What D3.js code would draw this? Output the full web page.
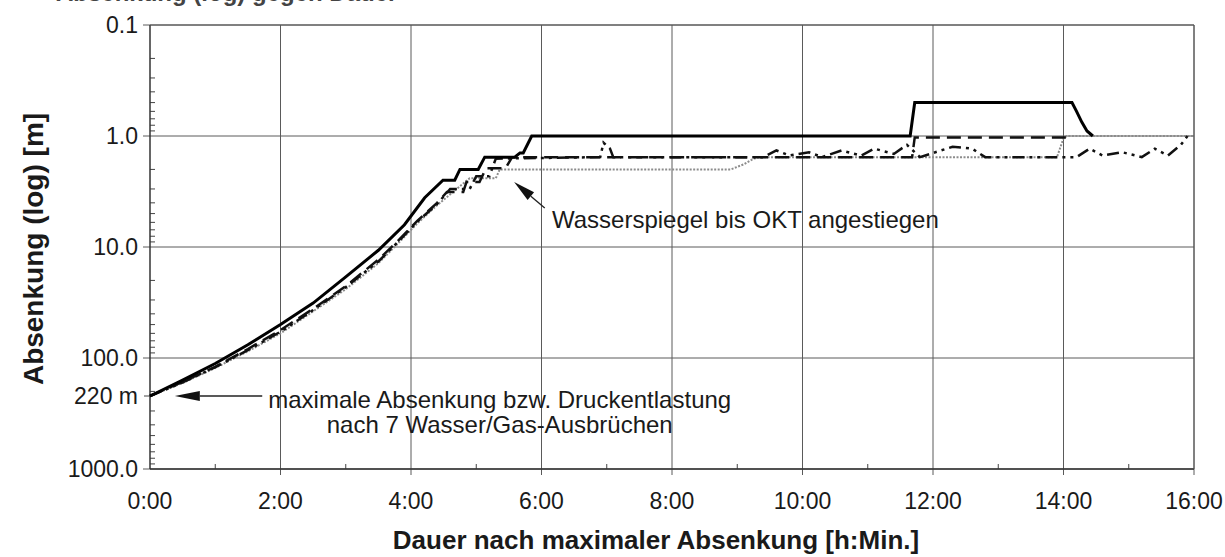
<!DOCTYPE html>
<html>
<head>
<meta charset="utf-8">
<script src="https://cdn.jsdelivr.net/npm/d3@7"></script>
<style>
  body { margin: 0; background: #fff; }
  text { font-family: "Liberation Sans", Arial, sans-serif; fill: #1a1a1a; }
</style>
</head>
<body>
<script>
// tick values
var xTicks = [0, 2, 4, 6, 8, 10, 12, 14, 16];
var yTicks = [0.1, 1, 10, 100, 1000];
var yTickLabels = ["0.1", "1.0", "10.0", "100.0", "1000.0"];
var startValue = 220;
var startLabel = "220 m";

// series: [Stunden, Absenkung m]
var solidLine = [[0,220],[0.5,158],[1,112],[1.5,76],[2,50],[2.5,32],[3,18.6],[3.5,10.7],[3.9,6.3],[4.21,3.6],
  [4.49,2.5],[4.67,2.5],[4.75,2.0],[5.03,2.0],[5.13,1.55],[5.59,1.55],[5.67,1.42],[5.72,1.42],[5.85,1.0],
  [11.65,1.0],[11.72,0.5],[14.13,0.5],[14.2,0.6],[14.28,0.75],[14.36,0.9],[14.45,1.0]];

var dashLine = [[0,220],[0.5,164],[1,120],[1.5,83],[2,56],[2.5,36],[3,22.5],[3.5,13],[3.8,8.8],[4.1,5.8],[4.4,4.0],
  [4.55,3.2],[4.8,3.2],[4.85,2.6],[5.05,2.6],[5.15,1.95],[5.45,1.95],[5.55,1.55],[11.68,1.55],[11.72,1.03],
  [14.05,1.03],[14.1,1.0]];

var dashDotLine = [[0,220],[0.5,166],[1,121],[1.5,85],[2,58],[2.5,37],[3,23],[3.5,13.5],[3.8,9.0],[4.1,5.9],[4.4,4.1],
  [4.6,3.0],[4.9,3.0],[5.0,2.3],[5.2,2.3],[5.3,1.6],[6.9,1.55],[6.95,1.15],[7.05,1.3],[7.1,1.55],
  [9.4,1.55],[9.6,1.35],[9.8,1.5],[10.1,1.4],[10.3,1.55],[10.6,1.35],[10.9,1.5],[11.1,1.3],[11.4,1.45],
  [11.6,1.2],[11.8,1.55],[12.3,1.25],[12.6,1.3],[12.8,1.55],[14.2,1.55],[14.4,1.3],[14.6,1.5],[14.9,1.4],
  [15.2,1.55],[15.4,1.3],[15.6,1.5],[15.8,1.2],[15.9,1.0]];

var dottedLine = [[0,220],[0.5,168],[1,123],[1.5,87],[2,60],[2.5,38],[3,24],[3.5,14],[3.8,9.3],[4.1,6.1],[4.4,4.2],
  [4.7,3.0],[4.9,2.4],[5.3,2.4],[5.36,2.0],[8.9,2.0],[9.1,1.8],[9.25,1.6],[9.35,1.55],[13.9,1.55],
  [14.0,1.05],[14.05,1.0],[16.0,1.0]];

// annotations in data units
var noteTop = { text: "Wasserspiegel bis OKT angestiegen", at: [6.16, 6.7], tail: [6.05, 4.45], tip: [5.58, 2.59] };
var noteBottom = { lines: ["maximale Absenkung bzw. Druckentlastung", "nach 7 Wasser/Gas-Ausbrüchen"],
  at: [5.36, 282], at2: [5.36, 470], tail: [1.72, 220], tip: [0.38, 220] };

var W = 1225, H = 557;
var margin = { top: 25, left: 150, right: 31, bottom: 88 };
var x0 = margin.left, x1 = W - margin.right, y0 = margin.top, y1 = H - margin.bottom;

var svg = d3.select("body").append("svg").attr("width", W).attr("height", H);

var xScale = d3.scaleLinear().domain([0, 16]).range([x0, x1]);
var yScale = d3.scaleLog().domain([0.1, 1000]).range([y0, y1]);

// cut-off heading at the very top
svg.append("text").attr("x", 56).attr("y", 1).style("font-size", "24px").style("font-weight", "bold")
  .style("fill", "#444").text("Absenkung (log) gegen Dauer");

// grid
var grid = svg.append("g").attr("stroke", "#5a5a5a").attr("stroke-width", 1);
grid.selectAll(".gx").data(xTicks.slice(1)).enter().append("line")
  .attr("x1", d => xScale(d)).attr("x2", d => xScale(d)).attr("y1", y0).attr("y2", y1 + 6);
grid.selectAll(".gy").data(yTicks).enter().append("line")
  .attr("y1", d => yScale(d)).attr("y2", d => yScale(d)).attr("x1", x0 - 7).attr("x2", x1);

// minor ticks
var minorY = [];
yTicks.slice(0, 4).forEach(function (d) { for (var k = 2; k < 10; k++) minorY.push(d * k); });
svg.append("g").attr("stroke", "#444").selectAll("line").data(minorY).enter().append("line")
  .attr("x1", x0).attr("x2", x0 + 5).attr("y1", d => yScale(d)).attr("y2", d => yScale(d));
svg.append("g").attr("stroke", "#444").selectAll("line").data(d3.range(1, 16, 2)).enter().append("line")
  .attr("x1", d => xScale(d)).attr("x2", d => xScale(d)).attr("y1", y1).attr("y2", y1 - 5);
svg.append("line").attr("stroke", "#444").attr("x1", x0 - 6).attr("x2", x0)
  .attr("y1", yScale(startValue)).attr("y2", yScale(startValue));

// axes lines
svg.append("line").attr("x1", x0).attr("x2", x0).attr("y1", y0).attr("y2", y1).attr("stroke", "#333").attr("stroke-width", 1.5);
svg.append("line").attr("x1", x0).attr("x2", x1).attr("y1", y1).attr("y2", y1).attr("stroke", "#333").attr("stroke-width", 1.5);

// tick labels
svg.append("g").selectAll("text").data(yTicks).enter().append("text")
  .attr("x", x0 - 12).attr("y", d => yScale(d) + 8).attr("text-anchor", "end")
  .style("font-size", "23px").text((d, i) => yTickLabels[i]);
svg.append("text").attr("x", x0 - 12).attr("y", yScale(startValue) + 8).attr("text-anchor", "end")
  .style("font-size", "23px").text(startLabel);
svg.append("g").selectAll("text").data(xTicks).enter().append("text")
  .attr("x", d => xScale(d)).attr("y", y1 + 40).attr("text-anchor", "middle")
  .style("font-size", "23px").text(d => d + ":00");

// axis titles
svg.append("text").attr("transform", "translate(43," + ((y0 + y1) / 2 + 2) + ") rotate(-90)")
  .attr("text-anchor", "middle").style("font-size", "28px").style("font-weight", "bold")
  .text("Absenkung (log)  [m]");
svg.append("text").attr("x", (x0 + x1) / 2 - 16).attr("y", H - 8).attr("text-anchor", "middle")
  .style("font-size", "26px").style("font-weight", "bold")
  .text("Dauer nach maximaler Absenkung  [h:Min.]");

// series
var line = d3.line().x(d => xScale(d[0])).y(d => yScale(d[1]));
svg.append("path").datum(dottedLine).attr("d", line).attr("fill", "none")
  .attr("stroke", "#8c8c8c").attr("stroke-width", 2).attr("stroke-dasharray", "2,1.5");
svg.append("path").datum(dashDotLine).attr("d", line).attr("fill", "none")
  .attr("stroke", "#111").attr("stroke-width", 2.5).attr("stroke-dasharray", "12,5,3,5,3,5");
svg.append("path").datum(dashLine).attr("d", line).attr("fill", "none")
  .attr("stroke", "#111").attr("stroke-width", 2.5).attr("stroke-dasharray", "14,7");
svg.append("path").datum(solidLine).attr("d", line).attr("fill", "none")
  .attr("stroke", "#000").attr("stroke-width", 3);

// arrows
function arrow(tail, tip, len, wid) {
  var ax = xScale(tail[0]), ay = yScale(tail[1]), bx = xScale(tip[0]), by = yScale(tip[1]);
  var ang = Math.atan2(by - ay, bx - ax);
  var cx = bx - len * Math.cos(ang), cy = by - len * Math.sin(ang);
  svg.append("line").attr("x1", ax).attr("y1", ay).attr("x2", cx).attr("y2", cy)
    .attr("stroke", "#222").attr("stroke-width", 1.3);
  var px = -Math.sin(ang) * wid / 2, py = Math.cos(ang) * wid / 2;
  svg.append("path").attr("d", "M" + bx + "," + by + "L" + (cx + px) + "," + (cy + py) + "L" + (cx - px) + "," + (cy - py) + "Z")
    .attr("fill", "#111");
}
arrow(noteTop.tail, noteTop.tip, 22, 10);
arrow(noteBottom.tail, noteBottom.tip, 25, 10);

svg.append("text").attr("x", xScale(noteTop.at[0])).attr("y", yScale(noteTop.at[1]))
  .style("font-size", "24px").text(noteTop.text);
svg.append("text").attr("x", xScale(noteBottom.at[0])).attr("y", yScale(noteBottom.at[1]))
  .attr("text-anchor", "middle").style("font-size", "24px").text(noteBottom.lines[0]);
svg.append("text").attr("x", xScale(noteBottom.at2[0])).attr("y", yScale(noteBottom.at2[1]))
  .attr("text-anchor", "middle").style("font-size", "24px").text(noteBottom.lines[1]);

// frame top/right
svg.append("line").attr("x1", x0).attr("x2", x1).attr("y1", y0).attr("y2", y0).attr("stroke", "#555");
svg.append("line").attr("x1", x1).attr("x2", x1).attr("y1", y0).attr("y2", y1).attr("stroke", "#555");
</script>
</body>
</html>
